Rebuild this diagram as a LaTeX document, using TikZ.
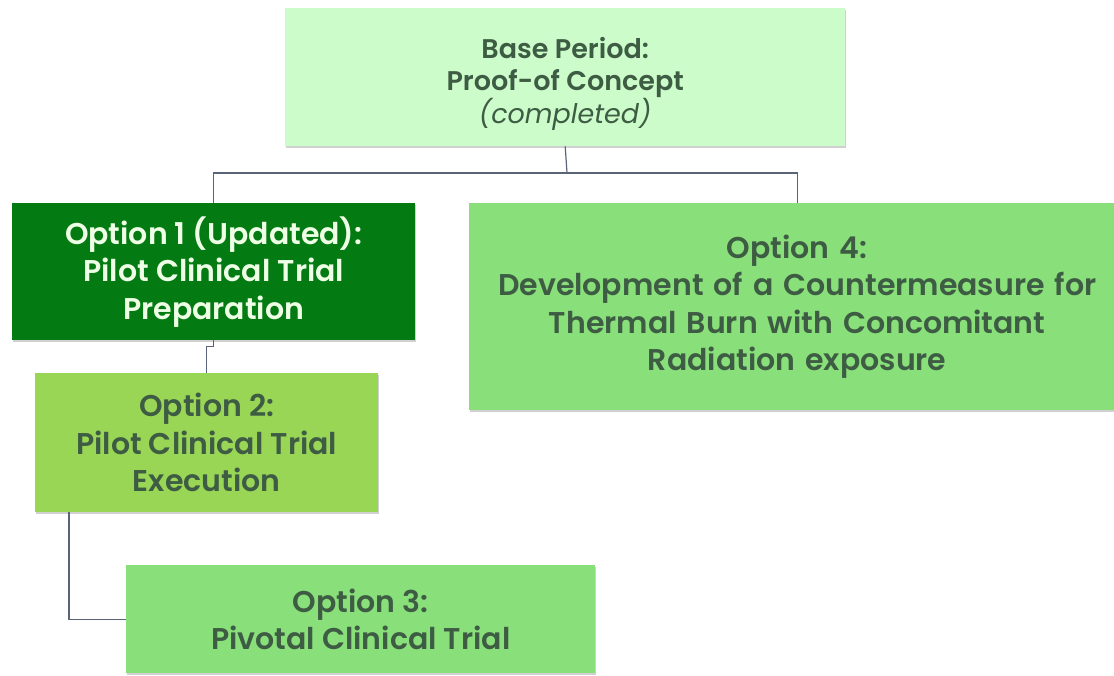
\documentclass[tikz,border=0pt]{standalone}
\usepackage{fontspec}
\setmainfont{Poppins}[BoldFont={Poppins SemiBold}]
\usetikzlibrary{shadows}
\definecolor{basefill}{HTML}{CCFCCA}
\definecolor{darkfill}{HTML}{037A12}
\definecolor{limefill}{HTML}{9AD656}
\definecolor{midfill}{HTML}{89E07A}
\definecolor{txt}{HTML}{3D5C43}
\definecolor{paletxt}{HTML}{EEFFE6}
\definecolor{conn}{HTML}{5A6478}
\tikzset{
  box/.style={rectangle, draw=none, anchor=north west, inner sep=0pt, align=center,
    text=txt, font=\bfseries\fontsize{30}{37.5}\selectfont,
    drop shadow={shadow xshift=1.2pt, shadow yshift=-2pt, opacity=0.3, fill=black!60}},
  conline/.style={draw=conn, line width=1.2pt}
}
\begin{document}
\begin{tikzpicture}[x=1pt,y=1pt]
\useasboundingbox (0,0) rectangle (1114,-675);
\fill[white] (0,0) rectangle (1114,-675);
\node[box, fill=basefill, minimum width=560pt, minimum height=138pt,
  font=\bfseries\fontsize{27}{32}\selectfont] (base) at (285,-8)
  {\rule{0pt}{34pt}Base Period:\\Proof-of Concept\\{\normalfont\itshape (completed)}};
\node[box, fill=darkfill, text=paletxt, minimum width=403pt, minimum height=137pt] (o1) at (12,-203)
  {Option 1 (Updated):\\Pilot Clinical Trial\\Preparation};
\node[box, fill=limefill, minimum width=343pt, minimum height=139pt] (o2) at (35,-373)
  {Option 2:\\Pilot Clinical Trial\\Execution};
\node[box, fill=midfill, minimum width=469pt, minimum height=108pt] (o3) at (126,-565)
  {Option 3:\\Pivotal Clinical Trial};
\node[box, fill=midfill, minimum width=656pt, minimum height=207pt, text width=645pt] (o4) at (469,-203)
  {Option 4:\\Development of a Countermeasure for\\Thermal Burn with Concomitant\\Radiation exposure};
\coordinate (j) at (567,-173);
\draw[conline] (base.south) -- (j);
\draw[conline] (o1.north) |- (j) -| (o4.north);
\draw[conline] (o1.south) -- ++(0,-6) -| (o2.north);
\draw[conline] ([xshift=34pt]o2.south west) |- (o3.west);
\end{tikzpicture}
\end{document}
